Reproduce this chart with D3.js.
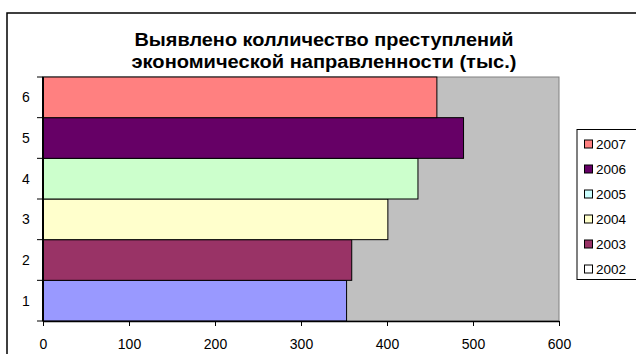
<!DOCTYPE html>
<html>
<head>
<meta charset="utf-8">
<script src="https://cdn.jsdelivr.net/npm/d3@7/dist/d3.min.js"></script>
<style>
  html, body { margin: 0; padding: 0; background: #fff; }
  svg { display: block; }
</style>
</head>
<body>
<svg id="chart" width="636" height="354"></svg>
<script>
// Crimes of an economic nature detected, thousands, by row
const categories = ["1", "2", "3", "4", "5", "6"];
const values = [353, 359, 401, 436, 489, 458];
const barColors = ["#9999FF", "#993366", "#FFFFCC", "#CCFFCC", "#660066", "#FF8080"];

const legendLabels = ["2007", "2006", "2005", "2004", "2003", "2002"];
const legendColors = ["#FF8080", "#660066", "#CCFFFF", "#FFFFCC", "#993366", "#FFFFFF"];

const xTicks = [0, 100, 200, 300, 400, 500, 600];
const titleLines = ["Выявлено колличество преступлений", "экономической направленности (тыс.)"];

const svg = d3.select("#chart");
const font = "'Liberation Sans', Arial, sans-serif";

// Outer chart frame (runs off the right and bottom edges)
svg.append("rect")
  .attr("x", 7).attr("y", 13).attr("width", 660).attr("height", 380)
  .attr("fill", "#fff").attr("stroke", "#000").attr("stroke-width", 1.5);

const plot = { left: 43, right: 559, top: 77, bottom: 321 };

const x = d3.scaleLinear().domain([0, 600]).range([plot.left, plot.right]);
const y = d3.scaleBand().domain(categories.slice().reverse())
  .range([plot.top, plot.bottom]).padding(0);

// Plot area
svg.append("rect")
  .attr("x", plot.left).attr("y", plot.top)
  .attr("width", plot.right - plot.left).attr("height", plot.bottom - plot.top)
  .attr("fill", "#C0C0C0").attr("stroke", "#808080").attr("stroke-width", 1);

// Bars
svg.append("g").selectAll("rect")
  .data(categories)
  .join("rect")
  .attr("x", x(0))
  .attr("y", d => y(d))
  .attr("width", (d, i) => x(values[i]) - x(0))
  .attr("height", y.bandwidth())
  .attr("fill", (d, i) => barColors[i])
  .attr("stroke", "#000").attr("stroke-width", 1);

// X axis
const xAxis = svg.append("g")
  .attr("transform", `translate(0,${plot.bottom})`)
  .call(d3.axisBottom(x).tickValues(xTicks).tickSize(5).tickPadding(13).tickSizeOuter(0));
xAxis.select(".domain").attr("stroke", "#000").attr("stroke-width", 1.5);
xAxis.selectAll(".tick line").attr("stroke", "#000");
xAxis.selectAll("text").attr("font-family", font).attr("font-size", 14).attr("fill", "#000");

// Y axis: ticks on band boundaries, labels centred in each band
const yAxisG = svg.append("g");
yAxisG.append("line")
  .attr("x1", plot.left).attr("x2", plot.left)
  .attr("y1", plot.top).attr("y2", plot.bottom)
  .attr("stroke", "#000").attr("stroke-width", 2);
const boundaries = d3.range(categories.length + 1).map(i => plot.top + i * y.step());
yAxisG.selectAll("line.tk").data(boundaries).join("line")
  .attr("class", "tk")
  .attr("x1", plot.left - 6).attr("x2", plot.left)
  .attr("y1", d => d).attr("y2", d => d)
  .attr("stroke", "#000").attr("stroke-width", 1);
yAxisG.selectAll("text").data(categories).join("text")
  .attr("x", 26)
  .attr("y", d => y(d) + y.bandwidth() / 2)
  .attr("dy", "0.35em")
  .attr("text-anchor", "middle")
  .attr("font-family", font).attr("font-size", 14).attr("fill", "#000")
  .text(d => d);

// Title
const titleWidths = [379, 385];
svg.append("g").selectAll("text").data(titleLines).join("text")
  .attr("x", 324)
  .attr("y", (d, i) => 46 + i * 21.5)
  .attr("text-anchor", "middle")
  .attr("font-family", font).attr("font-weight", "bold").attr("font-size", 18)
  .attr("textLength", (d, i) => titleWidths[i])
  .attr("lengthAdjust", "spacingAndGlyphs")
  .attr("fill", "#000")
  .text(d => d);

// Legend
const legend = svg.append("g");
legend.append("rect")
  .attr("x", 577).attr("y", 129.5).attr("width", 80).attr("height", 150)
  .attr("fill", "#fff").attr("stroke", "#000").attr("stroke-width", 1);
const items = legend.selectAll("g.item").data(legendLabels).join("g")
  .attr("class", "item")
  .attr("transform", (d, i) => `translate(584,${144 + i * 25})`);
items.append("rect")
  .attr("x", 0.5).attr("y", -4).attr("width", 8).attr("height", 8)
  .attr("fill", (d, i) => legendColors[i])
  .attr("stroke", "#000").attr("stroke-width", 1);
items.append("text")
  .attr("x", 12).attr("y", 0).attr("dy", "0.35em")
  .attr("font-family", font).attr("font-size", 13.5).attr("fill", "#000")
  .text(d => d);
</script>
</body>
</html>
